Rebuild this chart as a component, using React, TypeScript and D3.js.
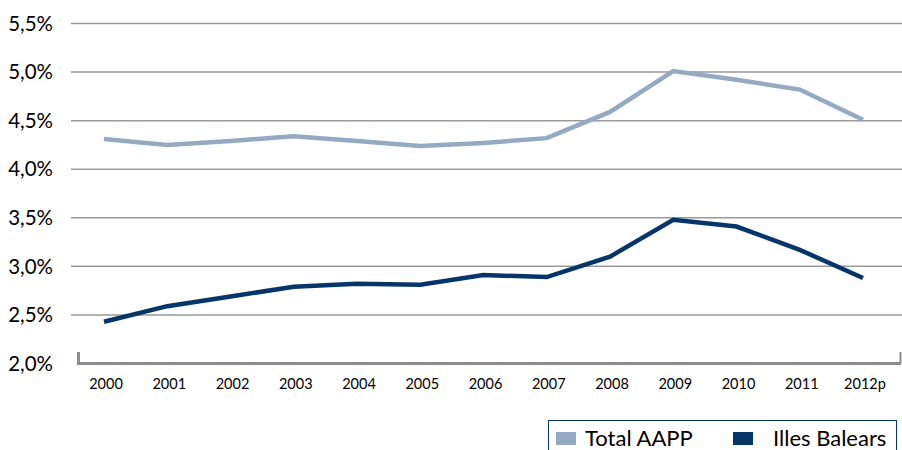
import React from "react";
import * as d3 from "d3";

const categories = ["2000","2001","2002","2003","2004","2005","2006","2007","2008","2009","2010","2011","2012p"];
const totalAAPP = [4.31,4.25,4.29,4.34,4.29,4.24,4.27,4.32,4.59,5.01,4.92,4.82,4.51];
const illesBalears = [2.43,2.59,2.69,2.79,2.82,2.81,2.91,2.89,3.10,3.48,3.41,3.17,2.88];
const yTicks = [2.0,2.5,3.0,3.5,4.0,4.5,5.0,5.5];
const seriesNames = ["Total AAPP","Illes Balears"];

const LIGHT = "#94a9c2";
const DARK = "#06356a";
const FONT = "Lato, 'Open Sans', sans-serif";

export default function App() {
  const W = 902, H = 450;
  const y = d3.scaleLinear().domain([2, 5.5]).range([363.5, 23.5]);
  const x = d3.scalePoint<string>().domain(categories).range([104, 863]);
  const line = d3.line<number>().x((_, i) => x(categories[i]) as number).y(d => y(d));
  const fmt = (v: number) => v.toFixed(1).replace(".", ",") + "%";

  return (
    <svg width={W} height={H} style={{ position: "absolute", left: 0, top: 0, background: "#fff" }}>
      {yTicks.filter(t => t > 2).map(t => (
        <line key={t} x1={71} x2={902} y1={y(t)} y2={y(t)} stroke="#9a9a9a" strokeWidth={1.5} />
      ))}
      {yTicks.map(t => (
        <text key={"l" + t} x={53} y={y(t)} dy="0.35em" textAnchor="end" fontFamily={FONT} fontSize={20.5} fill="#000">
          {fmt(t)}
        </text>
      ))}
      {/* x axis */}
      <path d={`M78.5,352 V363.5 H901`} fill="none" stroke="#8c8c8c" strokeWidth={3} />
      <line x1={900.5} x2={900.5} y1={352} y2={363.5} stroke="#8c8c8c" strokeWidth={2} />
      {categories.map(c => (
        <text key={c} x={x(c) as number + 2} y={384} dy="0.35em" textAnchor="middle" fontFamily={FONT} fontSize={14.5} fill="#000">
          {c}
        </text>
      ))}
      <path d={line(totalAAPP) || ""} fill="none" stroke={LIGHT} strokeWidth={4.5} strokeLinejoin="miter" />
      <path d={line(illesBalears) || ""} fill="none" stroke={DARK} strokeWidth={4.5} strokeLinejoin="miter" />
      {/* legend */}
      <rect x={548.5} y={420.5} width={348} height={40} fill="#fff" stroke={DARK} strokeWidth={1} />
      <rect x={556} y={432} width={20} height={13} fill={LIGHT} />
      <text x={585} y={438} dy="0.35em" fontFamily={FONT} fontSize={22} fill="#000">{seriesNames[0]}</text>
      <rect x={733} y={432} width={20} height={13} fill={DARK} />
      <text x={773} y={438} dy="0.35em" fontFamily={FONT} fontSize={22} fill="#000">{seriesNames[1]}</text>
    </svg>
  );
}
